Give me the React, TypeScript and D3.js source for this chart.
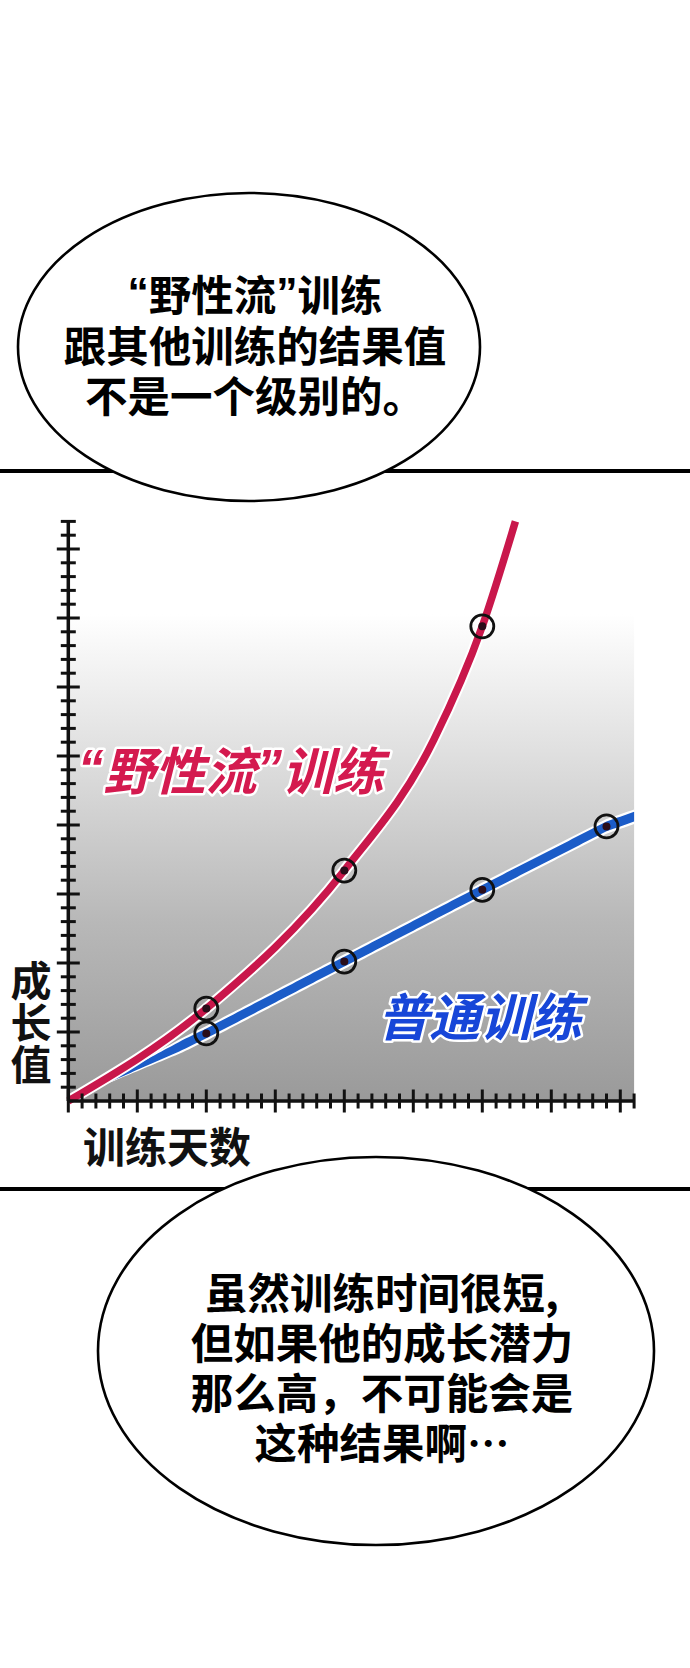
import React from 'react';
import * as d3 from 'd3';

// ---- data (x: training days, y: growth value, 1 unit = 1 minor tick) ----
const redDays = [0, 10, 20, 26.5, 30, 32.4];
const redValues = [0, 6.7, 16.7, 26.2, 34.4, 42];
const redMarkerDays = [10, 20, 30];

const blueDays = [0, 10, 20, 30, 39, 41];
const blueValues = [0, 4.9, 10.1, 15.3, 19.9, 20.6];
const blueMarkerDays = [10, 20, 30, 39];

const xTickDays = d3.range(0, 42); // 0..41
const yTickValues = d3.range(0, 43); // 0..42
const majorEvery = 5;

const topBubbleLines = ['“野性流”训练', '跟其他训练的结果值', '不是一个级别的。'];
const bottomBubbleLines = ['虽然训练时间很短,', '但如果他的成长潜力', '那么高，不可能会是', '这种结果啊…'];
const wildLabel = '“野性流”训练';
const normalLabel = '普通训练';
const yAxisLabel = ['成', '长', '值'];
const xAxisLabel = '训练天数';

const FONT = "'Noto Sans CJK SC', 'Noto Sans', sans-serif";
const QUOTE_FONT = "'Liberation Sans', 'DejaVu Sans', sans-serif";
const RED = '#c9174b';
const RED_LABEL = '#d41a4f';
const BLUE = '#1b5cc8';
const BLUE_LABEL = '#1746d8';

// split text so curly quotes render narrow (Latin font), CJK in CJK font
function pieces(t: string) {
  const out: { s: string; q: boolean }[] = [];
  for (const ch of t) {
    const q = ch === '“' || ch === '”';
    const last = out[out.length - 1];
    if (last && last.q === q && !q) last.s += ch;
    else out.push({ s: ch, q });
  }
  return out;
}

function renderPieces(t: string) {
  return pieces(t).map((p, i) => (
    <tspan key={i} fontFamily={p.q ? QUOTE_FONT : FONT}>
      {p.s}
    </tspan>
  ));
}

// multi-line block drawn as one <text> element with line tspans
function Block(props: any) {
  const { lines, x, y, lineHeight, ...rest } = props;
  return (
    <text {...rest} fontFamily={FONT}>
      {lines.map((t: string, i: number) => (
        <tspan key={i} x={x} y={y + i * lineHeight}>
          {renderPieces(t)}
        </tspan>
      ))}
    </text>
  );
}

export default function App() {
  const W = 690;
  const H = 1668;
  const x0 = 68.3;
  const y0 = 1101;
  const unit = 13.8;
  const x = d3.scaleLinear().domain([0, 41]).range([x0, x0 + 41 * unit]);
  const y = d3.scaleLinear().domain([0, 42]).range([y0, y0 - 42 * unit]);

  const redPts = redDays.map((d, i) => [d, redValues[i]] as [number, number]);
  const redLine = d3
    .line<[number, number]>()
    .x((p) => x(p[0]))
    .y((p) => y(p[1]))
    .curve(d3.curveMonotoneX);
  const redPath = redLine(redPts) || '';

  const blueInterp = d3.scaleLinear().domain(blueDays).range(blueValues);
  const samples = d3.range(0, 41.001, 0.25);
  const taper = (d: number) => Math.max(0, Math.min(1, (d - 1.2) / 7));
  const blueArea = (hw: number) =>
    d3
      .area<number>()
      .x((d) => x(d))
      .y0((d) => y(blueInterp(d)) - hw * taper(d))
      .y1((d) => y(blueInterp(d)) + hw * taper(d))(samples) || '';

  const markers = [
    ...redMarkerDays.map((d) => ({ d, v: redValues[redDays.indexOf(d)] })),
    ...blueMarkerDays.map((d) => ({ d, v: blueValues[blueDays.indexOf(d)] })),
  ];

  const lastY = yTickValues[yTickValues.length - 1];

  return (
    <div style={{ position: 'absolute', left: 0, top: 0, width: W, height: H, background: '#fff' }}>
      <svg width={W} height={H} viewBox={`0 0 ${W} ${H}`} style={{ display: 'block' }}>
        <defs>
          <linearGradient id="bg" gradientUnits="userSpaceOnUse" x1="0" y1={y(lastY)} x2="0" y2={y0}>
            <stop offset="0" stopColor="#ffffff" />
            <stop offset="0.16" stopColor="#ffffff" />
            <stop offset="0.38" stopColor="#e2e2e2" />
            <stop offset="0.69" stopColor="#b8b8b8" />
            <stop offset="1" stopColor="#9a9a9a" />
          </linearGradient>
        </defs>
        <rect width={W} height={H} fill="#fff" />

        {/* panel border lines */}
        <rect x={0} y={469} width={W} height={4} fill="#000" />
        <rect x={0} y={1187} width={W} height={4} fill="#000" />

        {/* chart background */}
        <rect x={x(0)} y={y(lastY)} width={x(41) - x(0)} height={y0 - y(lastY)} fill="url(#bg)" />

        {/* blue line (tapered, white outline) */}
        <path d={blueArea(7.3)} fill="#fff" />
        <path d={blueArea(4.9)} fill={BLUE} />

        {/* red curve */}
        <path d={redPath} fill="none" stroke="#fff" strokeWidth={11.5} strokeLinecap="butt" />
        <path d={redPath} fill="none" stroke={RED} strokeWidth={7.5} strokeLinecap="butt" />

        {/* markers */}
        {markers.map((m, i) => (
          <g key={i}>
            <circle cx={x(m.d)} cy={y(m.v)} r={11.5} fill="none" stroke="#111" strokeWidth={2.8} />
            <circle cx={x(m.d)} cy={y(m.v)} r={4} fill="#2a0d1a" />
          </g>
        ))}

        {/* axes */}
        <line x1={x0} y1={y0} x2={x0} y2={y(lastY)} stroke="#111" strokeWidth={3.5} />
        <line x1={x0} y1={y0} x2={x(41)} y2={y0} stroke="#111" strokeWidth={3.5} />
        {yTickValues.slice(1).map((v) => {
          const major = v % majorEvery === 0;
          const len = major ? 11.5 : 7.5;
          return (
            <line key={'y' + v} x1={x0 - len} x2={x0 + len} y1={y(v)} y2={y(v)} stroke="#111" strokeWidth={3} />
          );
        })}
        {xTickDays.map((d) => {
          const major = d % majorEvery === 0;
          const len = major ? 11.5 : 7.5;
          return (
            <line key={'x' + d} x1={x(d)} x2={x(d)} y1={y0 - len} y2={y0 + len} stroke="#111" strokeWidth={3} />
          );
        })}

        {/* series labels */}
        <text
          x={78}
          y={768}
          textAnchor="start"
          dominantBaseline="central"
          fontFamily={FONT}
          fontWeight={700}
          fontStyle="italic"
          fontSize={51}
          fill={RED_LABEL}
          stroke="#fff"
          strokeWidth={5}
          strokeLinejoin="round"
          paintOrder="stroke"
        >
          {renderPieces(wildLabel)}
        </text>
        <text
          x={480}
          y={1014}
          textAnchor="middle"
          dominantBaseline="central"
          fontFamily={FONT}
          fontWeight={700}
          fontStyle="italic"
          fontSize={51}
          fill={BLUE_LABEL}
          stroke="#fff"
          strokeWidth={5}
          strokeLinejoin="round"
          paintOrder="stroke"
        >
          {normalLabel}
        </text>

        {/* axis titles */}
        <Block
          lines={yAxisLabel}
          x={31}
          y={978}
          lineHeight={42}
          textAnchor="middle"
          dominantBaseline="central"
          fontWeight={700}
          fontSize={41}
          fill="#111"
        />
        <text
          x={167}
          y={1144}
          textAnchor="middle"
          dominantBaseline="central"
          fontFamily={FONT}
          fontWeight={700}
          fontSize={42}
          fill="#111"
        >
          {xAxisLabel}
        </text>

        {/* speech bubbles */}
        <ellipse cx={249} cy={347} rx={231} ry={154} fill="#fff" stroke="#000" strokeWidth={2.6} />
        <Block
          lines={topBubbleLines}
          x={255}
          y={292}
          lineHeight={50.5}
          textAnchor="middle"
          dominantBaseline="central"
          fontWeight={700}
          fontSize={42.5}
          fill="#000"
        />

        <ellipse cx={376} cy={1351} rx={278} ry={194} fill="#fff" stroke="#000" strokeWidth={2.6} />
        <Block
          lines={bottomBubbleLines}
          x={382}
          y={1290}
          lineHeight={50}
          textAnchor="middle"
          dominantBaseline="central"
          fontWeight={700}
          fontSize={42.5}
          fill="#000"
        />
      </svg>
    </div>
  );
}
